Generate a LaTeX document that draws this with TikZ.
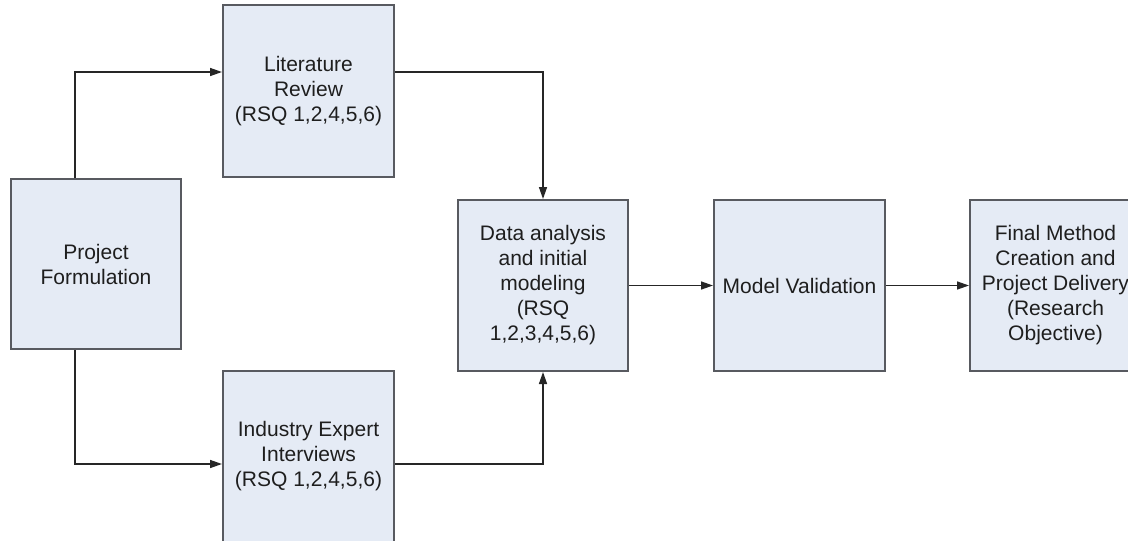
\documentclass[tikz,border=0pt]{standalone}
\usepackage{fontspec}
\setmainfont{Liberation Sans}
\usetikzlibrary{calc,arrows.meta}
\definecolor{boxfill}{RGB}{229,235,245}
\definecolor{boxline}{RGB}{88,90,96}
\definecolor{inkcol}{RGB}{30,30,30}
\begin{document}
\begin{tikzpicture}[x=0.75pt,y=-0.75pt,
  stage/.style={draw=boxline,line width=1.5pt,fill=boxfill,rectangle,
    minimum width=171*0.75pt,minimum height=171*0.75pt,inner sep=0pt,
    align=center,text=inkcol,
    font=\fontsize{15.75pt}{18.75pt}\selectfont},
  link/.style={draw=black!85,line width=1.1pt,
    -{Triangle[length=9pt,width=6pt]}}]
\useasboundingbox (0,0) rectangle (1128,540);
\clip (0,0) rectangle (1128,540);
\fill[white] (0,0) rectangle (1128,540);

% process stages
\node[stage,minimum width=170*0.75pt,minimum height=170*0.75pt] (proj) at (96,264) {Project\\Formulation};
\node[stage,minimum height=172*0.75pt] (lit) at (308.5,91) {Literature\\Review\\(RSQ 1,2,4,5,6)};
\node[stage] (ind) at (308.5,456.5) {Industry Expert\\Interviews\\(RSQ 1,2,4,5,6)};
\node[stage,minimum width=170*0.75pt] (data) at (543,285.5) {Data analysis\\and initial\\modeling\\(RSQ\\1,2,3,4,5,6)};
\node[stage] (model) at (799.5,285.5) {Model Validation};
\node[stage] (final) at (1055.5,285.5) {Final Method\\Creation and\\Project Delivery\\(Research\\Objective)};

% connectors
\draw[link] ($(proj.north)+(-21,0)$) |- ($(lit.west)+(0,-19)$);
\draw[link] ($(proj.south)+(-21,0)$) |- ($(ind.west)+(0,7.5)$);
\draw[link] ($(lit.east)+(0,-19)$) -| (data.north);
\draw[link] ($(ind.east)+(0,7.5)$) -| (data.south);
\draw[link] (data.east) -- (model.west);
\draw[link] (model.east) -- (final.west);
\end{tikzpicture}
\end{document}
